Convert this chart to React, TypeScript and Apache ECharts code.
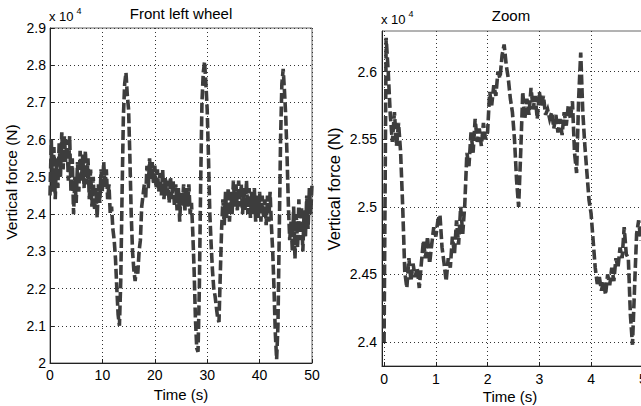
import React, { useEffect, useRef } from "react";
import * as echarts from "echarts";

// Front left wheel: vertical force (x 10^4 N), sampled every 0.25 s from 0 s to 50 s
const LEFT_DT = 0.25;
const leftValues = [
  2.45, 2.60, 2.46, 2.58, 2.44, 2.55, 2.47, 2.59, 2.50, 2.62,
  2.52, 2.61, 2.54, 2.60, 2.49, 2.61, 2.46, 2.55, 2.40, 2.50,
  2.43, 2.54, 2.46, 2.57, 2.49, 2.56, 2.47, 2.57, 2.48, 2.55,
  2.44, 2.52, 2.42, 2.50, 2.41, 2.47, 2.39, 2.48, 2.43, 2.52,
  2.46, 2.54, 2.47, 2.52, 2.44, 2.48, 2.40, 2.42, 2.36, 2.33,
  2.28, 2.20, 2.13, 2.10, 2.22, 2.45, 2.66, 2.75, 2.78, 2.72,
  2.68, 2.55, 2.40, 2.30, 2.25, 2.22, 2.26, 2.24, 2.30, 2.33,
  2.42, 2.45, 2.48, 2.44, 2.53, 2.47, 2.55, 2.49, 2.54, 2.48,
  2.53, 2.47, 2.52, 2.46, 2.51, 2.45, 2.52, 2.44, 2.50, 2.45,
  2.49, 2.43, 2.50, 2.44, 2.49, 2.42, 2.48, 2.41, 2.47, 2.38,
  2.46, 2.42, 2.48, 2.41, 2.47, 2.42, 2.48, 2.40, 2.43, 2.35,
  2.25, 2.12, 2.04, 2.03, 2.20, 2.48, 2.70, 2.78, 2.81, 2.75,
  2.68, 2.55, 2.40, 2.32, 2.25, 2.20, 2.18, 2.15, 2.12, 2.11,
  2.24, 2.36, 2.44, 2.37, 2.46, 2.39, 2.47, 2.38, 2.46, 2.40,
  2.49, 2.42, 2.48, 2.41, 2.49, 2.42, 2.48, 2.40, 2.47, 2.41,
  2.49, 2.40, 2.47, 2.39, 2.46, 2.40, 2.47, 2.38, 2.45, 2.39,
  2.46, 2.38, 2.45, 2.39, 2.44, 2.37, 2.45, 2.38, 2.46, 2.37,
  2.30, 2.20, 2.08, 2.01, 2.10, 2.35, 2.60, 2.75, 2.79, 2.73,
  2.66, 2.55, 2.42, 2.33, 2.38, 2.30, 2.42, 2.28, 2.40, 2.31,
  2.44, 2.33, 2.42, 2.30, 2.41, 2.34, 2.45, 2.36, 2.47, 2.40,
  2.48,
];

// Zoom: vertical force (x 10^4 N), sampled every 0.04 s from 0 s
const RIGHT_DT = 0.04;
const rightValues = [
  2.400, 2.625, 2.600, 2.568, 2.548, 2.570, 2.545, 2.562, 2.540, 2.500,
  2.452, 2.440, 2.462, 2.445, 2.458, 2.448, 2.455, 2.440, 2.458, 2.475,
  2.462, 2.478, 2.458, 2.472, 2.485, 2.478, 2.490, 2.494, 2.470, 2.458,
  2.445, 2.462, 2.455, 2.478, 2.465, 2.490, 2.472, 2.500, 2.480, 2.502,
  2.540, 2.530, 2.555, 2.540, 2.565, 2.548, 2.558, 2.545, 2.562, 2.550,
  2.555, 2.585, 2.575, 2.590, 2.582, 2.600, 2.595, 2.612, 2.620, 2.605,
  2.595, 2.580, 2.570, 2.550, 2.520, 2.500, 2.540, 2.585, 2.565, 2.580,
  2.568, 2.588, 2.572, 2.582, 2.565, 2.585, 2.575, 2.582, 2.568, 2.572,
  2.565, 2.570, 2.558, 2.568, 2.555, 2.565, 2.553, 2.570, 2.560, 2.575,
  2.565, 2.578, 2.540, 2.525, 2.580, 2.614, 2.570, 2.545, 2.525, 2.505,
  2.495, 2.475, 2.455, 2.443, 2.448, 2.438, 2.445, 2.435, 2.450, 2.442,
  2.455, 2.445, 2.462, 2.455, 2.470, 2.462, 2.485, 2.465, 2.462, 2.420,
  2.398, 2.440, 2.480, 2.490, 2.475,
];

const rightYTicks = [2.4, 2.45, 2.5, 2.55, 2.6];
const rightXTicks = [0, 1, 2, 3, 4, 5];

const FONT = "'Liberation Sans', Arial, Helvetica, sans-serif";
const LINE_COLOR = "#3d3d3d";

const fmt = (v: number) => String(parseFloat(v.toFixed(3)));

export default function App() {
  const ref = useRef<HTMLDivElement>(null);

  useEffect(() => {
    if (!ref.current) return;
    const chart = echarts.init(ref.current, null, { renderer: "svg" });

    const leftData = leftValues.map((v, i) => [i * LEFT_DT, v]);
    const rightData = rightValues.map((v, i) => [i * RIGHT_DT, v]);

    const splitLine = {
      show: true,
      lineStyle: { color: "#333", width: 1, type: [1, 3] as any },
    };
    const axisLabel = {
      color: "#000",
      fontFamily: FONT,
      fontSize: 14,
    };
    const nameStyle = { color: "#000", fontFamily: FONT, fontSize: 15 };
    const lineStyle = { color: LINE_COLOR, width: 3.6, type: [10, 3.5] as any, cap: "butt", join: "miter" };

    chart.setOption({
      animation: false,
      backgroundColor: "#fff",
      grid: [
        {
          left: 50, top: 28, width: 262, height: 335,
          outerBoundsMode: "none", containLabel: false,
          show: true, borderColor: "#666", borderWidth: 1, backgroundColor: "transparent",
        },
        {
          left: 382, top: 31, width: 266, height: 335,
          outerBoundsMode: "none", containLabel: false,
          show: true, borderColor: "#666", borderWidth: 1, backgroundColor: "transparent",
        },
      ],
      xAxis: [
        {
          type: "value", gridIndex: 0, min: 0, max: 50, interval: 10,
          axisLine: { show: true, onZero: false, lineStyle: { color: "#222" } },
          axisTick: { show: true, inside: true, length: 4, lineStyle: { color: "#222" } },
          axisLabel: { ...axisLabel, margin: 5, formatter: (v: number) => fmt(v) },
          splitLine,
          name: "Time (s)", nameLocation: "middle", nameGap: 20, nameTextStyle: nameStyle,
        },
        {
          type: "value", gridIndex: 1, min: -0.04, max: 5.1,
          axisLine: { show: true, onZero: false, lineStyle: { color: "#222" } },
          axisTick: { show: true, inside: true, length: 4, customValues: rightXTicks, lineStyle: { color: "#222" } },
          axisLabel: { ...axisLabel, margin: 6, customValues: rightXTicks, formatter: (v: number) => fmt(v) },
          splitLine,
        },
      ],
      yAxis: [
        {
          type: "value", gridIndex: 0, min: 2.0, max: 2.9, interval: 0.1,
          axisLine: { show: true, onZero: false, lineStyle: { color: "#222" } },
          axisTick: { show: true, inside: true, length: 4, lineStyle: { color: "#222" } },
          axisLabel: { ...axisLabel, margin: 4, formatter: (v: number) => fmt(v) },
          splitLine,
        },
        {
          type: "value", gridIndex: 1, min: 2.3823, max: 2.63,
          axisLine: { show: true, onZero: false, lineStyle: { color: "#222" } },
          axisTick: { show: true, inside: true, length: 4, customValues: rightYTicks, lineStyle: { color: "#222" } },
          axisLabel: { ...axisLabel, margin: 5, customValues: rightYTicks, formatter: (v: number) => fmt(v) },
          splitLine,
        },
      ],
      series: [
        {
          type: "line", xAxisIndex: 0, yAxisIndex: 0, data: leftData,
          showSymbol: false, symbol: "none", silent: true, clip: true,
          lineStyle,
        },
        {
          type: "line", xAxisIndex: 1, yAxisIndex: 1, data: rightData,
          showSymbol: false, symbol: "none", silent: true, clip: true,
          lineStyle,
        },
      ],
      graphic: [
        { type: "text", x: 181, y: 13, style: { text: "Front left wheel", font: `15px ${FONT}`, fill: "#000", textAlign: "center", textVerticalAlign: "middle" } },
        { type: "text", x: 511, y: 15, style: { text: "Zoom", font: `15px ${FONT}`, fill: "#000", textAlign: "center", textVerticalAlign: "middle" } },
        { type: "text", x: 510, y: 396, style: { text: "Time (s)", font: `15px ${FONT}`, fill: "#000", textAlign: "center", textVerticalAlign: "middle" } },
        { type: "text", x: 49, y: 23, style: { text: "x 10", font: `13px ${FONT}`, fill: "#000", textAlign: "left", textVerticalAlign: "bottom" } },
        { type: "text", x: 76.5, y: 15, style: { text: "4", font: `9px ${FONT}`, fill: "#000", textAlign: "left", textVerticalAlign: "bottom" } },
        { type: "text", x: 381, y: 26, style: { text: "x 10", font: `13px ${FONT}`, fill: "#000", textAlign: "left", textVerticalAlign: "bottom" } },
        { type: "text", x: 408.5, y: 18, style: { text: "4", font: `9px ${FONT}`, fill: "#000", textAlign: "left", textVerticalAlign: "bottom" } },
        { type: "text", x: 11.5, y: 182, rotation: Math.PI / 2, style: { text: "Vertical force (N)", font: `15.5px ${FONT}`, fill: "#000", textAlign: "center", textVerticalAlign: "middle" } },
        { type: "text", x: 333.5, y: 189, rotation: Math.PI / 2, style: { text: "Vertical force (N)", font: `16.5px ${FONT}`, fill: "#000", textAlign: "center", textVerticalAlign: "middle" } },
      ],
    });

    return () => chart.dispose();
  }, []);

  return (
    <div
      ref={ref}
      style={{ position: "absolute", left: 0, top: 0, width: 641, height: 406, background: "#fff" }}
    />
  );
}
